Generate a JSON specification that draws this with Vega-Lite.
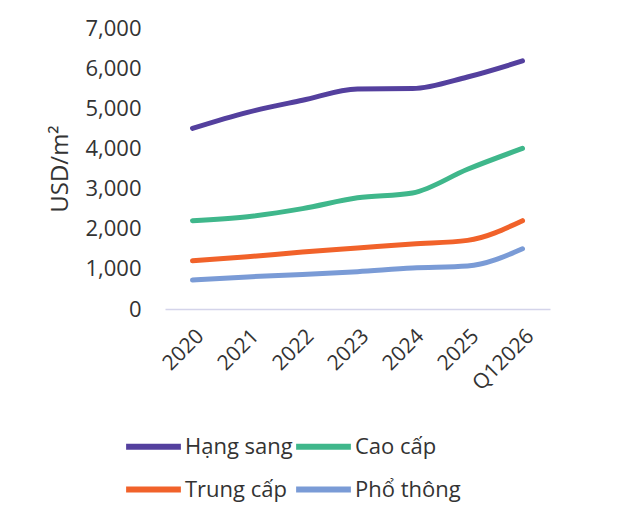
{
  "$schema": "https://vega.github.io/schema/vega-lite/v6.json",
  "width": 385,
  "height": 281,
  "autosize": {"type": "none"},
  "padding": {"left": 165, "top": 28, "right": 74, "bottom": 197},
  "background": "#ffffff",
  "config": {
    "font": "Open Sans",
    "view": {"stroke": null},
    "axis": {"labelColor": "#333333", "titleColor": "#333333", "labelFont": "Open Sans", "titleFont": "Open Sans"},
    "legend": {"labelFont": "Open Sans", "labelColor": "#333333"}
  },
  "data": {
    "values": [
      {"period": "2020", "segment": "Hạng sang", "price": 4500},
      {"period": "2021", "segment": "Hạng sang", "price": 4900},
      {"period": "2022", "segment": "Hạng sang", "price": 5200},
      {"period": "2023", "segment": "Hạng sang", "price": 5480},
      {"period": "2024", "segment": "Hạng sang", "price": 5490},
      {"period": "2025", "segment": "Hạng sang", "price": 5780},
      {"period": "Q12026", "segment": "Hạng sang", "price": 6180},
      {"period": "2020", "segment": "Cao cấp", "price": 2200},
      {"period": "2021", "segment": "Cao cấp", "price": 2300},
      {"period": "2022", "segment": "Cao cấp", "price": 2500},
      {"period": "2023", "segment": "Cao cấp", "price": 2770},
      {"period": "2024", "segment": "Cao cấp", "price": 2890},
      {"period": "2025", "segment": "Cao cấp", "price": 3480},
      {"period": "Q12026", "segment": "Cao cấp", "price": 4000},
      {"period": "2020", "segment": "Trung cấp", "price": 1200},
      {"period": "2021", "segment": "Trung cấp", "price": 1300},
      {"period": "2022", "segment": "Trung cấp", "price": 1420},
      {"period": "2023", "segment": "Trung cấp", "price": 1520},
      {"period": "2024", "segment": "Trung cấp", "price": 1620},
      {"period": "2025", "segment": "Trung cấp", "price": 1710},
      {"period": "Q12026", "segment": "Trung cấp", "price": 2200},
      {"period": "2020", "segment": "Phổ thông", "price": 720},
      {"period": "2021", "segment": "Phổ thông", "price": 800},
      {"period": "2022", "segment": "Phổ thông", "price": 860},
      {"period": "2023", "segment": "Phổ thông", "price": 930},
      {"period": "2024", "segment": "Phổ thông", "price": 1020},
      {"period": "2025", "segment": "Phổ thông", "price": 1070},
      {"period": "Q12026", "segment": "Phổ thông", "price": 1500}
    ]
  },
  "mark": {"type": "line", "interpolate": "monotone", "strokeWidth": 5, "strokeCap": "round"},
  "encoding": {
    "x": {
      "field": "period",
      "type": "ordinal",
      "scale": {"type": "point", "padding": 0.5},
      "sort": null,
      "axis": {
        "title": null,
        "labelAngle": -45,
        "labelFontSize": 21,
        "labelPadding": 16,
        "ticks": false,
        "domainColor": "#d4d4ea",
        "domainWidth": 1.5,
        "grid": false
      }
    },
    "y": {
      "field": "price",
      "type": "quantitative",
      "scale": {"domain": [0, 7000], "nice": false},
      "axis": {
        "title": "USD/m²",
        "titleFontSize": 24,
        "titleFontWeight": "normal",
        "titlePadding": 12,
        "labelFontSize": 22,
        "labelPadding": 24,
        "values": [0, 1000, 2000, 3000, 4000, 5000, 6000, 7000],
        "format": ",.0f",
        "ticks": false,
        "domain": false,
        "grid": false
      }
    },
    "color": {
      "field": "segment",
      "type": "nominal",
      "scale": {
        "domain": ["Hạng sang", "Cao cấp", "Trung cấp", "Phổ thông"],
        "range": ["#54409e", "#3fb78b", "#f1622a", "#7a9bd6"]
      },
      "legend": {
        "title": null,
        "orient": "none",
        "legendX": -42,
        "legendY": 388,
        "columns": 2,
        "direction": "horizontal",
        "symbolType": "stroke",
        "symbolSize": 3000,
        "symbolStrokeWidth": 6,
        "labelFontSize": 22,
        "labelOffset": 1,
        "columnPadding": -10,
        "rowPadding": -8,
        "labelLimit": 200
      }
    }
  }
}
